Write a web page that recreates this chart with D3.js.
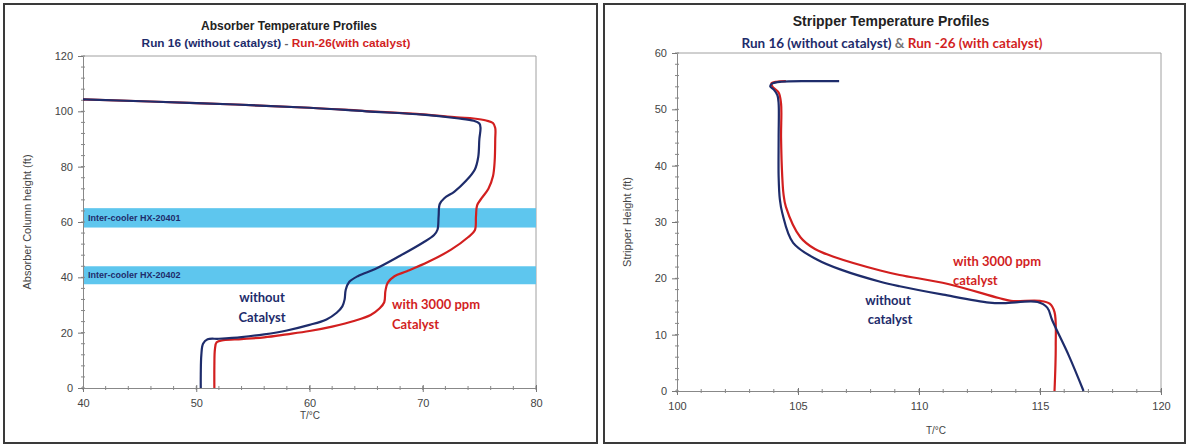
<!DOCTYPE html>
<html><head><meta charset="utf-8">
<script src="https://cdn.jsdelivr.net/npm/d3@7"></script>
<style>body{margin:0;background:#fff}svg{display:block}</style>
</head><body>
<svg id="c" width="1188" height="447"></svg>
<script>
// ---------- Absorber (left) data: [T (°C), height (ft)] ----------
const absRun16 = [[50.4,0],[50.4,5],[50.45,12],[50.6,16],[51,17.6],[52,17.8],[54,18.4],[56,19.4],[58,20.8],[60,22.8],[61.5,24.8],[62.4,27.2],[62.9,29.5],[63.1,32],[63.2,35.5],[63.5,38.3],[64.3,40.5],[65.8,43],[68,47.8],[70,52.5],[71,55.3],[71.3,57.2],[71.4,62],[71.5,66.5],[71.9,68.6],[72.8,71],[73.8,74.8],[74.6,79],[74.9,83.5],[75.0,90],[75.1,94],[75.0,95.6],[74.5,96.6],[73,97.5],[70,98.8],[65,100],[60,101.3],[50,103],[40,104.3]];
const absRun26 = [[51.6,0],[51.6,8],[51.65,14],[51.8,16.5],[52.4,17.3],[54,17.7],[56,18.3],[58,19.4],[60,20.6],[62,22.2],[64,24.3],[65.4,26.4],[66.2,28.8],[66.6,31],[66.7,35],[66.9,38],[67.5,40.4],[68.6,42.2],[70.5,45.6],[72.5,50],[74,54.5],[74.6,57],[74.7,62],[74.8,66],[75.2,68.6],[75.8,72],[76.2,76.5],[76.35,82],[76.4,90],[76.4,94],[76.2,95.8],[75.6,96.7],[74.5,97.4],[73,97.8],[70,98.9],[65,100.1],[60,101.3],[50,103],[40,104.3]];
const absBands = [[58,65,"Inter-cooler HX-20401"],[37.5,44,"Inter-cooler HX-20402"]];
const absXTicks = [40,50,60,70,80];
const absYTicks = [0,20,40,60,80,100,120];

// ---------- Stripper (right) data ----------
const strRun16 = [[106.7,55.0],[105.5,55.0],[104.3,54.9],[103.95,54.6],[103.85,54.1],[104.0,53.5],[104.15,52.5],[104.2,51],[104.2,45],[104.2,38],[104.25,34],[104.35,31.6],[104.8,26.3],[105.8,23.3],[106.8,21.5],[108.4,19.4],[109.2,18.6],[111,17.1],[112.9,15.7],[113.5,15.6],[114.9,15.8],[115.3,14.8],[115.5,12.6],[116.2,6.2],[116.8,0]];
const strRun26 = [[104.5,55.0],[104.1,54.9],[103.9,54.6],[103.95,54.0],[104.2,53],[104.3,51],[104.3,45],[104.35,38],[104.4,35],[104.5,32.7],[105.1,27.3],[105.7,25.2],[106.5,23.8],[108.4,21.4],[109.2,20.6],[111.2,19.0],[113.3,16.5],[113.8,16.0],[115.0,16.0],[115.4,15.5],[115.6,14.0],[115.65,8],[115.6,0]];
const strXTicks = [100,105,110,115,120];
const strYTicks = [0,10,20,30,40,50,60];

const BLUE = "#1e2c6b", RED = "#d21f1f";
const svg = d3.select("#c");

// panel frames
svg.append("rect").attr("x",4).attr("y",4).attr("width",593).attr("height",439).attr("fill","none").attr("stroke","#3a3a3a").attr("stroke-width",2);
svg.append("rect").attr("x",604).attr("y",4).attr("width",581).attr("height",439).attr("fill","none").attr("stroke","#3a3a3a").attr("stroke-width",2);

function panel(o){
  const x = d3.scaleLinear().domain(o.xd).range([o.x0,o.x1]);
  const y = d3.scaleLinear().domain(o.yd).range([o.y0,o.y1]);
  const g = svg.append("g");
  g.append("path").attr("d",`M${o.x0},${o.y1}H${o.x1}V${o.y0}`).attr("fill","none").attr("stroke","#a0a0a0").attr("stroke-width",1);
  if(o.bands){
    o.bands.forEach(b=>{
      g.append("rect").attr("x",o.x0).attr("width",o.x1-o.x0).attr("y",y(b[1])).attr("height",y(b[0])-y(b[1])).attr("fill","#5ec6ee");
      g.append("text").attr("x",o.x0+5).attr("y",(y(b[0])+y(b[1]))/2+3).attr("font-family","Liberation Sans, Arial").attr("font-weight","bold").attr("font-size",9).attr("fill","#1e2c6b").text(b[2]);
    });
  }
  d3.range(o.xd[0],o.xd[1]+1e-9,o.xm).forEach(v=>{
    g.append("line").attr("x1",x(v)).attr("x2",x(v)).attr("y1",o.y0-2).attr("y2",o.y0+2).attr("stroke","#888");
  });
  d3.range(o.yd[0],o.yd[1]+1e-9,o.ym).forEach(v=>{
    g.append("line").attr("y1",y(v)).attr("y2",y(v)).attr("x1",o.x0-2).attr("x2",o.x0+2).attr("stroke","#888");
  });
  const ax = g.append("g").attr("transform",`translate(0,${o.y0})`).call(d3.axisBottom(x).tickValues(o.xt).tickSizeInner(-5).tickSizeOuter(0).tickPadding(11));
  const ay = g.append("g").attr("transform",`translate(${o.x0},0)`).call(d3.axisLeft(y).tickValues(o.yt).tickSize(5).tickSizeOuter(0).tickPadding(5));
  [ax,ay].forEach(a=>{
    a.select(".domain").attr("stroke","#888");
    a.selectAll(".tick line").attr("stroke","#777");
    a.selectAll("text").attr("font-family","Liberation Sans, Arial").attr("font-size",11).attr("fill","#444");
  });
  ax.selectAll(".tick line").attr("y1",-3).attr("y2",4);
  const line = d3.line().x(d=>x(d[0])).y(d=>y(d[1])).curve(d3.curveCatmullRom.alpha(0.5));
  g.append("path").datum(o.red).attr("d",line).attr("fill","none").attr("stroke",RED).attr("stroke-width",2.2);
  g.append("path").datum(o.blue).attr("d",line).attr("fill","none").attr("stroke",BLUE).attr("stroke-width",2.2);
  return {x,y,g};
}

const L = panel({xd:[40,80],yd:[0,120],x0:83,x1:536,y0:388,y1:56,xm:2,ym:4,xt:absXTicks,yt:absYTicks,bands:absBands,red:absRun26,blue:absRun16});
const R = panel({xd:[100,120],yd:[0,60],x0:677,x1:1161,y0:391,y1:53,xm:1,ym:2,xt:strXTicks,yt:strYTicks,red:strRun26,blue:strRun16});

function txt(x,y,s,opt){
  const t = svg.append("text").attr("x",x).attr("y",y).attr("text-anchor",opt.anchor||"middle")
    .attr("font-family",opt.ff||"Liberation Sans, Arial").attr("font-size",opt.fs||11).attr("font-weight",opt.fw||"normal").attr("fill",opt.fill||"#333");
  if(opt.rot) t.attr("transform",`rotate(-90,${x},${y})`);
  t.text(s); return t;
}
// Left titles
txt(289,30,"Absorber Temperature Profiles",{fs:12,fw:"bold",fill:"#222"});
const st = svg.append("text").attr("x",276).attr("y",47).attr("text-anchor","middle").attr("font-family","Liberation Sans, Arial").attr("font-size",11.8).attr("font-weight","bold");
st.append("tspan").attr("fill",BLUE).text("Run 16 (without catalyst)");
st.append("tspan").attr("fill","#666").text(" - ");
st.append("tspan").attr("fill",RED).text("Run-26(with catalyst)");
txt(31,222,"Absorber Column height (ft)",{rot:true,fs:11,fill:"#444"});
txt(310,419,"T/°C",{fs:10,fill:"#444"});
txt(262,302,"without",{ff:"Lato",fs:13,fw:"bold",fill:BLUE});
txt(262,322,"Catalyst",{ff:"Lato",fs:13,fw:"bold",fill:BLUE});
txt(392,309,"with 3000 ppm",{anchor:"start",ff:"Lato",fs:13,fw:"bold",fill:RED});
txt(392,329,"Catalyst",{anchor:"start",ff:"Lato",fs:13,fw:"bold",fill:RED});

// Right titles
txt(891,26,"Stripper Temperature Profiles",{fs:14,fw:"bold",fill:"#222"});
const st2 = svg.append("text").attr("x",892).attr("y",48).attr("text-anchor","middle").attr("font-family","Lato").attr("font-size",13.5).attr("font-weight","bold");
st2.append("tspan").attr("fill",BLUE).text("Run 16 (without catalyst)");
st2.append("tspan").attr("fill","#777").text(" & ");
st2.append("tspan").attr("fill",RED).text("Run -26 (with catalyst)");
txt(631,222,"Stripper Height (ft)",{rot:true,fs:11,fill:"#444"});
txt(936,434,"T/°C",{fs:10,fill:"#444"});
txt(953,266,"with 3000 ppm",{anchor:"start",ff:"Lato",fs:13,fw:"bold",fill:RED});
txt(953,285,"catalyst",{anchor:"start",ff:"Lato",fs:13,fw:"bold",fill:RED});
txt(888,305,"without",{ff:"Lato",fs:13,fw:"bold",fill:BLUE});
txt(890,324,"catalyst",{ff:"Lato",fs:13,fw:"bold",fill:BLUE});
</script>
</body></html>
